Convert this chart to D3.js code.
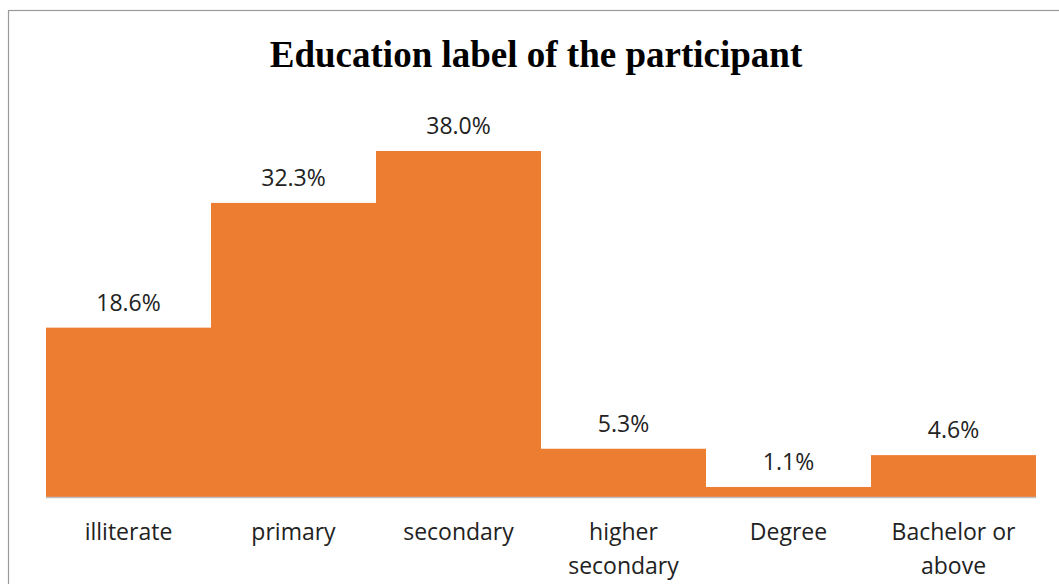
<!DOCTYPE html>
<html><head><meta charset="utf-8">
<script src="https://cdn.jsdelivr.net/npm/d3@7"></script>
<style>html,body{margin:0;padding:0;background:#fff;}</style>
</head><body>
<script>
const categories = ["illiterate", "primary", "secondary", "higher secondary", "Degree", "Bachelor or above"];
const categoryLines = [["illiterate"], ["primary"], ["secondary"], ["higher", "secondary"], ["Degree"], ["Bachelor or", "above"]];
const values = [18.6, 32.3, 38.0, 5.3, 1.1, 4.6];
const valueLabels = ["18.6%", "32.3%", "38.0%", "5.3%", "1.1%", "4.6%"];
const title = "Education label of the participant";

const W = 1059, H = 584;
const svg = d3.select("body").append("svg").attr("width", W).attr("height", H);

// chart frame
svg.append("rect").attr("x", 8.5).attr("y", 10.5).attr("width", 1100).attr("height", 700)
  .attr("fill", "#fff").attr("stroke", "#9a9a9a").attr("stroke-width", 1.2);

svg.append("text").attr("x", 536).attr("y", 67).attr("text-anchor", "middle")
  .attr("font-family", "Liberation Serif, Times New Roman, serif").attr("font-weight", "bold")
  .attr("font-size", 37).attr("fill", "#000").text(title);

const x = d3.scaleBand().domain(categories).range([46, 1036]).padding(0);
const y = d3.scaleLinear().domain([0, 38.0]).range([497, 151]);

svg.selectAll("rect.bar").data(values).join("rect").attr("class", "bar")
  .attr("x", (d, i) => x(categories[i]))
  .attr("y", d => y(d))
  .attr("width", x.bandwidth())
  .attr("height", d => y(0) - y(d))
  .attr("fill", "#ED7D31");

svg.append("line").attr("x1", 46).attr("x2", 1036).attr("y1", y(0) + 0.5).attr("y2", y(0) + 0.5)
  .attr("stroke", "#bfbfbf").attr("stroke-width", 1.5);

const font = "Open Sans, Lato, sans-serif";
svg.selectAll("text.val").data(values).join("text").attr("class", "val")
  .attr("x", (d, i) => x(categories[i]) + x.bandwidth() / 2)
  .attr("y", d => y(d) - 17)
  .attr("text-anchor", "middle").attr("font-family", font).attr("font-size", 23).attr("fill", "#222")
  .text((d, i) => valueLabels[i]);

const cat = svg.selectAll("text.cat").data(categories).join("text").attr("class", "cat")
  .attr("text-anchor", "middle").attr("font-family", font).attr("font-size", 23).attr("fill", "#222");
cat.each(function(d, i) {
  const t = d3.select(this);
  categoryLines[i].forEach((ln, j) => {
    t.append("tspan").attr("x", x(d) + x.bandwidth() / 2).attr("y", 540 + j * 34).text(ln);
  });
});
</script>
</body></html>
